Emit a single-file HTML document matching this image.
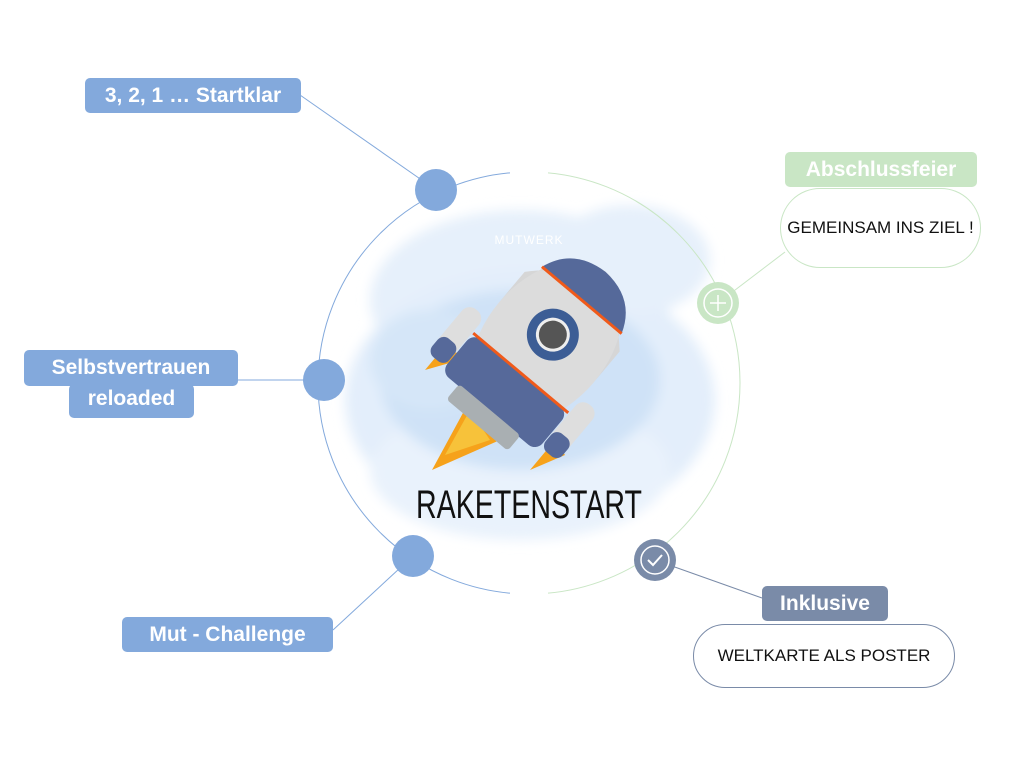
<!DOCTYPE html>
<html><head><meta charset="utf-8"><style>
body{margin:0;width:1024px;height:768px;background:#fff;position:relative;overflow:hidden;font-family:"Liberation Sans",sans-serif}
.lab{position:absolute;color:#fff;font-weight:bold;font-size:21px;border-radius:5px;text-align:center;line-height:35px}
.pill{position:absolute;border-radius:40px;background:#fff;display:flex;align-items:center;justify-content:center;font-family:"Liberation Sans Narrow","Liberation Sans",sans-serif;font-size:17px;color:#111;letter-spacing:0px}
</style></head><body>
<svg width="1024" height="768" style="position:absolute;left:0;top:0">
<defs><filter id="bl"><feGaussianBlur stdDeviation="6"/></filter>
<clipPath id="cl"><rect x="0" y="0" width="510" height="768"/></clipPath>
<clipPath id="cr"><rect x="548" y="0" width="476" height="768"/></clipPath>
</defs>
<g filter="url(#bl)">
<ellipse cx="520" cy="300" rx="150" ry="90" fill="#e6f0fb"/>
<ellipse cx="530" cy="400" rx="185" ry="130" fill="#e3eefb"/>
<ellipse cx="520" cy="470" rx="150" ry="70" fill="#e9f2fc"/>
<ellipse cx="630" cy="260" rx="80" ry="55" fill="#e6f0fb"/>
<ellipse cx="520" cy="380" rx="140" ry="90" fill="#cfe2f7"/>
<ellipse cx="430" cy="360" rx="60" ry="50" fill="#d5e6f8"/>
</g>
<g fill="none" stroke-width="1">
<circle cx="529" cy="383" r="211" stroke="#83a9dc" clip-path="url(#cl)"/>
<circle cx="529" cy="383" r="211" stroke="#c9e6c5" clip-path="url(#cr)"/>
<line x1="436" y1="190" x2="300" y2="95" stroke="#83a9dc"/>
<line x1="238" y1="380" x2="324" y2="380" stroke="#83a9dc"/>
<line x1="413" y1="556" x2="333" y2="630" stroke="#83a9dc"/>
<line x1="718" y1="303" x2="785" y2="252" stroke="#c9e6c5"/>
<line x1="655" y1="560" x2="762" y2="598" stroke="#7a8ba8"/>
</g>
<circle cx="436" cy="190" r="21" fill="#83a9dc"/>
<circle cx="324" cy="380" r="21" fill="#83a9dc"/>
<circle cx="413" cy="556" r="21" fill="#83a9dc"/>
<circle cx="718" cy="303" r="21" fill="#c9e6c5"/>
<circle cx="718" cy="303" r="14" fill="none" stroke="#fff" stroke-width="1.5"/>
<path d="M718 295v16M710 303h16" stroke="#fff" stroke-width="1.5"/>
<circle cx="655" cy="560" r="21" fill="#7a8ba8"/>
<circle cx="655" cy="560" r="14" fill="none" stroke="#fff" stroke-width="1.5"/>
<path d="M648 560l5 5 9-10" stroke="#fff" stroke-width="2" fill="none"/>
<g>
<path d="M432 470 L470 400 L500 440 Z" fill="#f6a21b"/>
<path d="M445 455 L470 410 L490 440 Z" fill="#f7c23a"/>
<path d="M425 370 L450 340 L460 360 Z" fill="#f6a21b"/>
<path d="M530 470 L555 440 L565 455 Z" fill="#f6a21b"/>
<g transform="rotate(40 540 350)">
<ellipse cx="540" cy="340" rx="62" ry="92" fill="#dcdcdc"/>
<path d="M478 340 A62 92 0 0 1 602 340 L602 300 Q540 230 478 300Z" fill="#d6d6d6"/>
<path d="M490 280 Q540 220 590 280 Q570 255 540 250 Q510 255 490 280Z" fill="#4d6593"/>
<path d="M540 248 Q500 250 488 285 L592 285 Q580 250 540 248Z" fill="#55699a"/>
<rect x="478" y="380" width="124" height="50" rx="10" fill="#56699a"/>
<rect x="500" y="428" width="80" height="20" rx="4" fill="#a9afb2"/>
<line x1="488" y1="285" x2="592" y2="285" stroke="#f05a1a" stroke-width="3"/>
<line x1="478" y1="380" x2="602" y2="380" stroke="#f05a1a" stroke-width="3"/>
<circle cx="540" cy="330" r="26" fill="#3c5d95"/>
<circle cx="540" cy="330" r="17" fill="#eee"/>
<circle cx="540" cy="330" r="14" fill="#555"/>
<rect x="455" y="360" width="22" height="60" rx="10" fill="#dedede"/>
<rect x="603" y="360" width="22" height="60" rx="10" fill="#dedede"/>
<rect x="455" y="400" width="22" height="24" rx="8" fill="#56699a"/>
<rect x="603" y="400" width="22" height="24" rx="8" fill="#56699a"/>
</g>
</g>
<text x="529" y="244" text-anchor="middle" fill="#fff" font-size="12" font-family="Liberation Sans Narrow,Liberation Sans,sans-serif" letter-spacing="1">MUTWERK</text>
<text x="529" y="518" text-anchor="middle" fill="#111" font-size="40" font-family="Liberation Sans Narrow,Liberation Sans,sans-serif" textLength="226" lengthAdjust="spacingAndGlyphs">RAKETENSTART</text>
</svg>
<div class="lab" style="left:85px;top:78px;width:216px;background:#83a9dc">3, 2, 1 … Startklar</div>
<div class="lab" style="left:24px;top:350px;width:214px;height:36px;background:#83a9dc">Selbstvertrauen</div>
<div class="lab" style="left:69px;top:384px;width:125px;height:34px;line-height:30px;background:#83a9dc">reloaded</div>
<div class="lab" style="left:122px;top:617px;width:211px;background:#83a9dc">Mut - Challenge</div>
<div class="lab" style="left:785px;top:152px;width:192px;background:#c9e6c5">Abschlussfeier</div>
<div class="pill" style="left:780px;top:188px;width:199px;height:78px;border:1px solid #c9e6c5">GEMEINSAM INS ZIEL !</div>
<div class="lab" style="left:762px;top:586px;width:126px;background:#7a8ba8">Inklusive</div>
<div class="pill" style="left:693px;top:624px;width:260px;height:62px;border:1px solid #7a8ba8">WELTKARTE ALS POSTER</div>
</body></html>
